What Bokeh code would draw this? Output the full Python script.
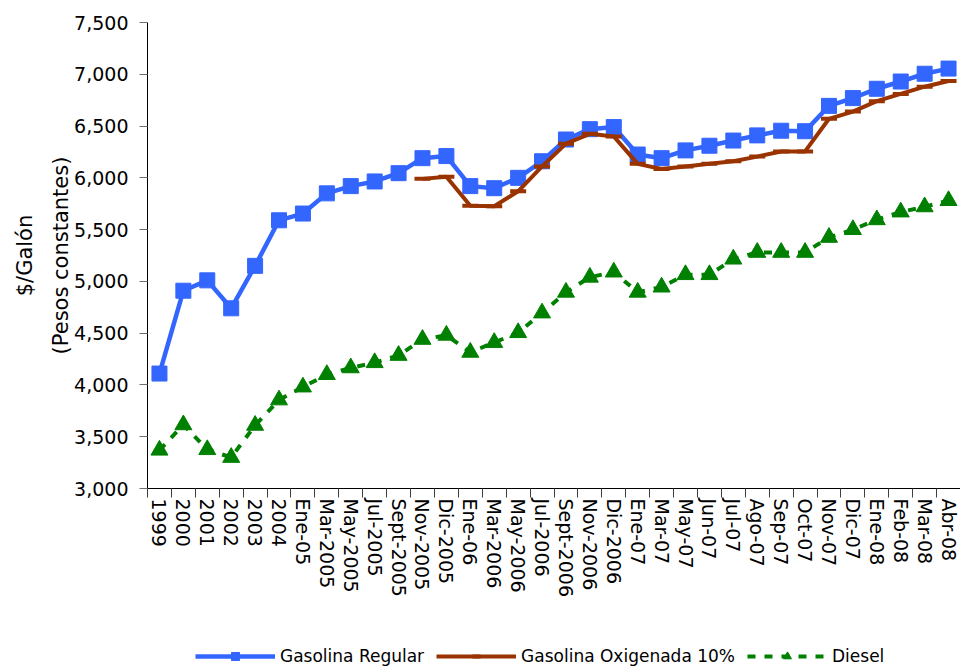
from bokeh.plotting import figure
from bokeh.layouts import column
from bokeh.models import FixedTicker, Range1d, Legend, LegendItem, NumeralTickFormatter
from bokeh.embed import file_html
from bokeh.resources import INLINE

categories = ["1999", "2000", "2001", "2002", "2003", "2004", "Ene-05", "Mar-2005", "May-2005",
              "Jul-2005", "Sept-2005", "Nov-2005", "Dic-2005", "Ene-06", "Mar-2006", "May-2006",
              "Jul-2006", "Sept-2006", "Nov-2006", "Dic-2006", "Ene-07", "Mar-07", "May-07",
              "Jun-07", "Jul-07", "Ago-07", "Sep-07", "Oct-07", "Nov-07", "Dic-07", "Ene-08",
              "Feb-08", "Mar-08", "Abr-08"]

regular = [4110, 4910, 5010, 4740, 5150, 5590, 5655, 5850, 5920, 5965, 6045, 6190, 6210,
           5920, 5900, 6000, 6160, 6370, 6470, 6490, 6225, 6190, 6265, 6310, 6360, 6410,
           6455, 6450, 6695, 6770, 6860, 6930, 7005, 7055]

oxigenada_start = "Nov-2005"
oxigenada = [5990, 6010, 5730, 5725, 5870, 6110, 6330, 6425, 6400, 6135, 6085, 6110, 6135,
             6160, 6205, 6255, 6255, 6570, 6640, 6740, 6810, 6880, 6935]

diesel = [3370, 3615, 3375, 3300, 3610, 3855, 3980, 4100, 4165, 4215, 4285, 4440, 4480,
          4315, 4410, 4505, 4695, 4895, 5040, 5090, 4895, 4945, 5065, 5065, 5215, 5280,
          5280, 5280, 5425, 5500, 5595, 5670, 5720, 5780]

y_ticks = [3000, 3500, 4000, 4500, 5000, 5500, 6000, 6500, 7000, 7500]

series_names = ["Gasolina Regular", "Gasolina Oxigenada 10%", "Diesel"]

FONT = "'DejaVu Sans', sans-serif"
BLUE = "#3366FF"
BROWN = "#993300"
GREEN = "#008000"

x_all = list(range(len(categories)))
i0 = categories.index(oxigenada_start)
x_ox = x_all[i0:i0 + len(oxigenada)]

STY_REG_L = dict(line_color=BLUE, line_width=4.5)
STY_REG_M = dict(marker="square", size=15, fill_color=BLUE, line_color=BLUE)
STY_OX_L = dict(line_color=BROWN, line_width=4)
STY_OX_M = dict(marker="dash", size=16, line_color=BROWN, line_width=4)
STY_DI_L = dict(line_color=GREEN, line_width=4, line_dash="8 9")
STY_DI_M = dict(marker="triangle", size=17, fill_color=GREEN, line_color=GREEN)


def draw_series(fig):
    a = [fig.line(x_all, regular, **STY_REG_L), fig.scatter(x_all, regular, **STY_REG_M)]
    b = [fig.line(x_ox, oxigenada, **STY_OX_L), fig.scatter(x_ox, oxigenada, **STY_OX_M)]
    c = [fig.line(x_all, diesel, **STY_DI_L), fig.scatter(x_all, diesel, **STY_DI_M)]
    return a, b, c


p = figure(width=960, height=630, output_backend="svg", toolbar_location=None,
           x_range=Range1d(-0.5, len(categories) - 0.5), y_range=Range1d(3000, 7500),
           min_border_left=147, min_border_right=0, min_border_top=22, min_border_bottom=142)
p.outline_line_color = None
p.grid.grid_line_color = None
p.background_fill_color = "white"
draw_series(p)

# y axis
ya = p.yaxis[0]
ya.ticker = FixedTicker(ticks=y_ticks)
ya.formatter = NumeralTickFormatter(format="0,0")
ya.axis_label = "$/Galón\n(Pesos constantes)"
ya.axis_label_text_font = FONT
ya.axis_label_text_font_style = "normal"
ya.axis_label_text_font_size = "21px"
ya.axis_label_text_line_height = 1.5
ya.axis_label_text_color = "black"
ya.axis_label_standoff = -2
ya.major_label_text_font = FONT
ya.major_label_text_font_size = "19px"
ya.major_label_text_color = "black"
ya.major_label_standoff = 11
ya.major_tick_out = 8
ya.major_tick_in = 0
ya.major_tick_line_color = "#707070"
ya.minor_tick_line_color = None
ya.axis_line_color = "black"

# x axis
xa = p.xaxis[0]
xa.ticker = FixedTicker(ticks=x_all, minor_ticks=[i - 0.5 for i in range(len(categories) + 1)])
xa.major_label_overrides = {i: c for i, c in enumerate(categories)}
xa.major_label_orientation = "vertical"
xa.major_label_text_font = FONT
xa.major_label_text_font_size = "19px"
xa.major_label_text_color = "black"
xa.major_label_standoff = 1
xa.major_tick_line_color = None
xa.major_tick_out = 8
xa.major_tick_in = 0
xa.minor_tick_line_color = "#404040"
xa.minor_tick_out = 9
xa.minor_tick_in = 0
xa.axis_line_color = "black"

# legend strip below the chart (series drawn outside its visible range)
p2 = figure(width=960, height=40, output_backend="svg", toolbar_location=None,
            x_axis_type=None, y_axis_type=None,
            min_border_left=147, min_border_right=0, min_border_top=0, min_border_bottom=0,
            x_range=Range1d(100, 101), y_range=Range1d(0, 1))
p2.outline_line_color = None
p2.grid.grid_line_color = None
p2.background_fill_color = "white"
p2.border_fill_color = "white"
l_reg, l_ox, l_di = draw_series(p2)

legend = Legend(items=[
    LegendItem(label=series_names[0], renderers=l_reg),
    LegendItem(label=series_names[1], renderers=l_ox),
    LegendItem(label=series_names[2], renderers=l_di),
], orientation="horizontal", location=(48, 4))
legend.label_text_font = FONT
legend.label_text_font_size = "17px"
legend.label_text_color = "black"
legend.glyph_width = 80
legend.glyph_height = 20
legend.label_standoff = 5
legend.spacing = 12
legend.padding = 0
legend.margin = 0
legend.border_line_color = None
legend.background_fill_alpha = 0
p2.add_layout(legend, "center")

layout = column(p, p2, spacing=0)
open("out.html", "w").write(file_html(layout, INLINE))
